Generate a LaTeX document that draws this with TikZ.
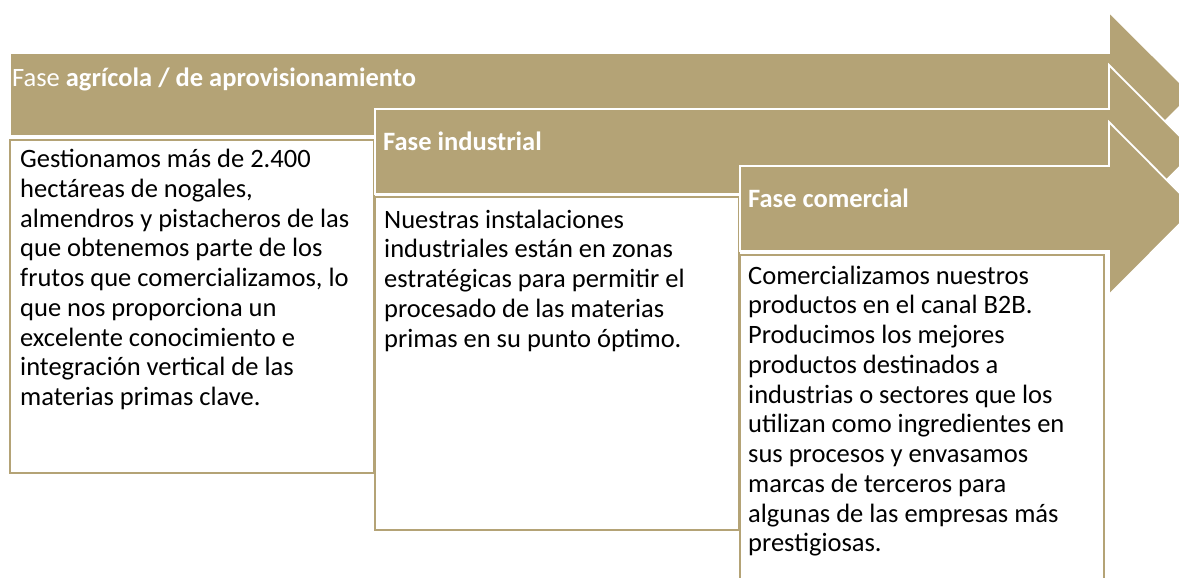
\documentclass[tikz,border=0pt]{standalone}
\usepackage{fontspec}
\setmainfont{Carlito}
\definecolor{fasegold}{RGB}{180,163,118}

\begin{document}
\begin{tikzpicture}[x=1pt, y=-1pt,
  fasearrow/.style={fill=fasegold, draw=white, line width=1.8pt, line join=miter},
  fasebox/.style={fill=white, draw=fasegold, line width=2pt},
  fasetitle/.style={anchor=base west, inner sep=0pt, text=white, font=\fontsize{26.5}{29.75}\selectfont},
  fasetext/.style={anchor=north west, inner sep=0pt, align=left, font=\fontsize{26.5}{29.75}\selectfont}]
  \useasboundingbox (0,0) rectangle (1179,578);
  \clip (0,0) rectangle (1179,578);

  % Fase agricola
  \draw[fasearrow] (10,53) -- (1109,53) -- (1109,12) -- (1192,94.5) -- (1109,177)
    -- (1109,136) -- (10,136) -- cycle;
  \draw[fasebox] (10,140) rectangle (374,473);
  \node[fasetitle] (agricola) at (12,87) {Fase \textbf{agrícola / de aprovisionamiento}};
  \node[fasetext] (txtagricola) at (20,167.5-22) {\rule{0pt}{22pt}Gestionamos más de 2.400\\
    \mbox{hectáreas de nogales,}\\ almendros y pistacheros de las\\ que obtenemos parte de los\\
    frutos que comercializamos, lo\\ que nos proporciona un\\ excelente conocimiento e\\
    integración vertical de las\\ materias primas clave.};

  % Fase industrial
  \draw[fasearrow] (375,109) -- (1109,109) -- (1109,65) -- (1195,151.5) -- (1109,238)
    -- (1109,194) -- (375,194) -- cycle;
  \draw[fasebox] (375,197) rectangle (739,530);
  \node[fasetitle] (industrial) at (383,150) {\textbf{Fase industrial}};
  \node[fasetext] (txtindustrial) at (384,228-22) {\rule{0pt}{22pt}Nuestras instalaciones\\
    industriales están en zonas\\ estratégicas para permitir el\\
    procesado de las materias\\ primas en su punto óptimo.};

  % Fase comercial
  \draw[fasearrow] (740,166) -- (1109,166) -- (1109,122) -- (1195,208.5) -- (1109,295)
    -- (1109,251) -- (740,251) -- cycle;
  \draw[fasebox] (740,255) rectangle (1104,600);
  \node[fasetitle] (comercial) at (748,207) {\textbf{Fase comercial}};
  \node[fasetext] (txtcomercial) at (748,284-22) {\rule{0pt}{22pt}Comercializamos nuestros\\
    productos en el canal B2B.\\ Producimos los mejores\\ productos destinados a\\
    industrias o sectores que los\\ utilizan como ingredientes en\\ sus procesos y envasamos\\
    marcas de terceros para\\ algunas de las empresas más\\ prestigiosas.};
\end{tikzpicture}
\end{document}
